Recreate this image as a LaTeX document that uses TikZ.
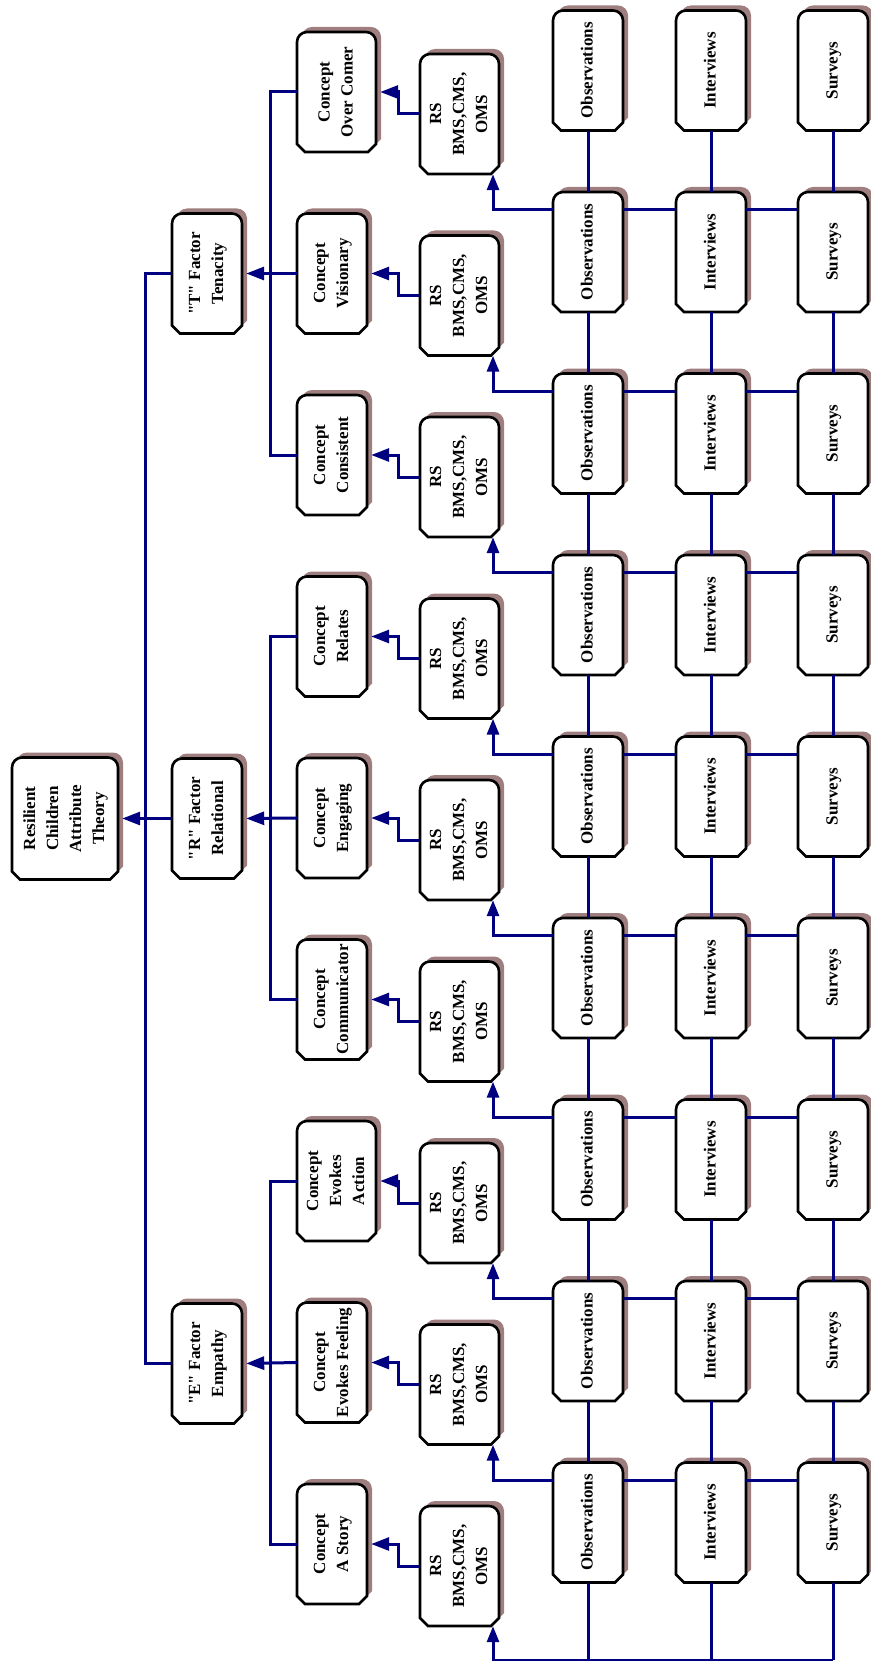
\documentclass[tikz,border=0pt]{standalone}
\usepackage{fontspec}
\setmainfont{Liberation Serif}[Ligatures=TeXOff]
\usepackage{graphicx}
\usetikzlibrary{arrows.meta,positioning,calc}

\definecolor{linkblue}{RGB}{0,0,128}
\definecolor{shadebrown}{RGB}{158,126,126}

% box with rounded top, cut bottom corners and a brown shadow
\newcommand{\cardbox}[5]{%
  \pgfmathsetmacro{\cardhw}{(#3)/2}\pgfmathsetmacro{\cardhh}{(#4)/2}
  \begin{scope}[shift={(#2)}]
    \fill[shadebrown] (5-\cardhw,\cardhh-13) [rounded corners=10pt] -- (5-\cardhw,-\cardhh-5)
      -- (5+\cardhw,-\cardhh-5) [sharp corners] -- (5+\cardhw,\cardhh-13)
      -- (\cardhw-3,\cardhh-5) -- (13-\cardhw,\cardhh-5) -- cycle;
    \draw[line width=2.6pt, fill=white] (-\cardhw,\cardhh-8) [rounded corners=10pt] -- (-\cardhw,-\cardhh)
      -- (\cardhw,-\cardhh) [sharp corners] -- (\cardhw,\cardhh-8)
      -- (\cardhw-8,\cardhh) -- (8-\cardhw,\cardhh) -- cycle;
  \end{scope}
  \node[cardtext, minimum width={(#3)*1pt}, minimum height={(#4)*1pt}] (#1) at (#2)
    {\rotatebox{90}{\begin{tabular}{@{}c@{}}#5\end{tabular}}};
}

\begin{document}
\begin{tikzpicture}[x=1pt,y=-1pt,>=Stealth]
  \tikzset{
    link/.style={draw=linkblue, line width=3pt},
    tip/.style={-{Triangle[length=18pt,width=13pt]}, shorten >=4pt},
    uptip/.style={-{Triangle[length=16pt,width=12pt]}},
    cardtext/.style={inner sep=0pt, font=\fontsize{17}{23}\selectfont\bfseries}
  }
  \useasboundingbox (0,0) rectangle (870,1661);
  \coordinate (spineA) at (145,0);
  \coordinate (spineB) at (270,0);
  \coordinate (bendC) at (398,0);
  \coordinate (bendR) at (493,0);

  % theory and factors
  \cardbox{root}{65,818.5}{106}{122}{Resilient\\Children\\Attribute\\Theory}
  \cardbox{fT}{207,273.5}{70}{120}{"T" Factor\\Tenacity}
  \cardbox{fR}{207,818.5}{70}{120}{"R" Factor\\Relational}
  \cardbox{fE}{207,1363.5}{70}{120}{"E" Factor\\Empathy}

  % concepts
  \foreach \i/\w/\txt in {1/79/{Concept\\Over Comer}, 2/70/{Concept\\Visionary},
      3/70/{Concept\\Consistent}, 4/70/{Concept\\Relates}, 5/70/{Concept\\Engaging},
      6/70/{Concept\\Communicator}, 7/79/{Concept\\Evokes\\Action},
      8/70/{Concept\\Evokes Feeling}, 9/70/{Concept\\A Story}}{
    \pgfmathsetmacro{\cy}{92+(\i-1)*181.5}
    \pgfmathsetmacro{\cx}{297+\w/2}
    \cardbox{c\i}{\cx,\cy}{\w}{120}{\txt}
    \cardbox{rs\i}{459.5,\cy+22}{79}{120}{RS\\BMS,CMS,\\OMS}
  }

  % data sources
  \foreach \j in {1,...,9}{
    \pgfmathsetmacro{\oy}{252+(\j-2)*181.5}
    \cardbox{obs\j}{588,\oy}{70}{120}{Observations}
    \cardbox{int\j}{711,\oy}{70}{120}{Interviews}
    \cardbox{sur\j}{833,\oy}{70}{120}{Surveys}
  }
  \coordinate (obs10) at (588,1660);
  \coordinate (int10) at (711,1660);
  \coordinate (sur10) at (833,1660);

  % tree links
  \draw[link] (fT.west) -| (spineA |- fE.west) -- (fE.west);
  \draw[link,tip] (fR.west) -- (root.east);
  \foreach \f/\a/\b/\c in {fT/1/2/3, fR/4/5/6, fE/7/8/9}{
    \draw[link] (c\a.west) -| (spineB |- c\c.west) -- (c\c.west);
    \draw[link,tip] (c\b.west) -- (\f.east);
  }
  \foreach \i in {1,...,9}
    \draw[link,tip] (rs\i.west) -| (bendC |- c\i.east) -- (c\i.east);

  % grid links
  \foreach \i in {1,...,8}{
    \pgfmathtruncatemacro{\n}{\i+1}
    \draw[link,uptip] ($(obs\n.north west)+(0,18)$) -| (bendR |- rs\i.south);
    \draw[link] ($(obs\n.north east)+(0,18)$) -- ($(int\n.north west)+(0,18)$);
    \draw[link] ($(int\n.north east)+(0,18)$) -- ($(sur\n.north west)+(0,18)$);
    \draw[link] (obs\i.south) -- (obs\n.north);
    \draw[link] (int\i.south) -- (int\n.north);
    \draw[link] (sur\i.south) -- (sur\n.north);
  }
  \draw[link] (obs9.south) -- (obs10);
  \draw[link] (int9.south) -- (int10);
  \draw[link] (sur9.south) -- (sur10);
  \draw[link,uptip] (sur10) -- (obs10) -| (bendR |- rs9.south);
\end{tikzpicture}
\end{document}
